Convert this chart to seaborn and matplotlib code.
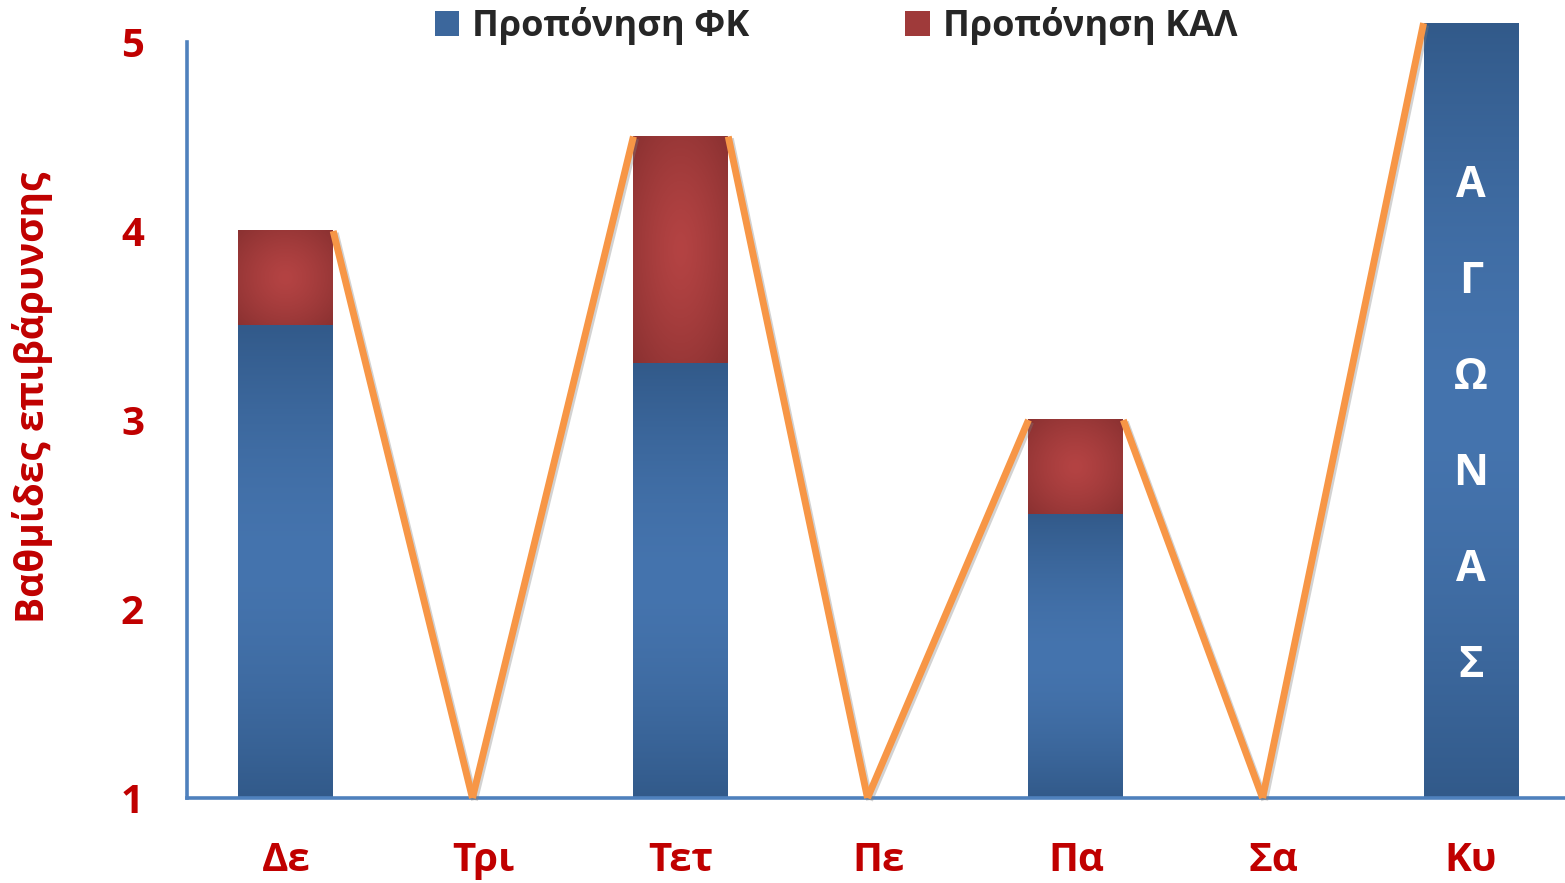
import numpy as np
import pandas as pd
import matplotlib
matplotlib.use("Agg")
import matplotlib.pyplot as plt
import seaborn as sns
from matplotlib.patches import Patch
from matplotlib import patheffects as pe
from matplotlib.colors import to_rgb

# ---- data -------------------------------------------------------------
days = ["Δε", "Τρι", "Τετ", "Πε", "Πα", "Σα", "Κυ"]
fk_load = [3.5, 0, 3.3, 0, 2.5, 0, 5.1]      # physical conditioning
kal_load = [0.5, 0, 1.2, 0, 0.5, 0, 0]       # calisthenics / extra
rest_level = 1
y_ticks = [1, 2, 3, 4, 5]
series_names = ["Προπόνηση ΦΚ", "Προπόνηση ΚΑΛ"]
match_label = "ΑΓΩΝΑΣ"
y_title = "Βαθμίδες επιβάρυνσης"

# ---- style ------------------------------------------------------------
RED_TXT = "#C00000"
AXIS_BLUE = "#4F81BD"
LINE_ORANGE = "#F79646"
BLUE_DARK, BLUE_LIGHT = "#325A8A", "#4574AE"
RED_DARK, RED_LIGHT = "#8A3131", "#B44343"
BAR_W = 0.48
DIP_SHIFT = -0.055

sns.set_theme(style="white")
plt.rcParams["font.family"] = ["Open Sans", "DejaVu Sans"]
plt.rcParams["font.weight"] = "bold"

W, H = 1565, 883
UNIT = 189.0          # pixels per load step
Y0_PX = 798           # baseline (load 1)
X0_PX = 187
Y_TOP = 5.12
fig = plt.figure(figsize=(W / 100, H / 100), dpi=100)
ax = fig.add_axes([X0_PX / W, (H - Y0_PX) / H, 1 - X0_PX / W,
                   (Y_TOP - 1) * UNIT / H])

df = pd.DataFrame({"day": days, "fk": fk_load, "kal": kal_load})
mid_blue = tuple((np.array(to_rgb(BLUE_DARK)) + np.array(to_rgb(BLUE_LIGHT))) / 2)
mid_red = tuple((np.array(to_rgb(RED_DARK)) + np.array(to_rgb(RED_LIGHT))) / 2)

sns.barplot(data=df, x="day", y="fk", color=mid_blue, saturation=1,
            width=BAR_W, ax=ax, linewidth=0, zorder=2)
sns.barplot(data=df, x="day", y="kal", color=mid_red, saturation=1,
            width=BAR_W, ax=ax, linewidth=0, zorder=2,
            bottom=np.asarray(fk_load, dtype=float))

ax.set_xlim(-0.5, 6.476)
ax.set_ylim(1, Y_TOP)


def vertical_grad(dark, light, n=200):
    t = np.abs(np.linspace(-1, 1, n))[:, None]
    d, l = np.array(to_rgb(dark)), np.array(to_rgb(light))
    img = l * (1 - t[..., None] ** 1.6) + d * (t[..., None] ** 1.6)
    return np.repeat(img, 2, axis=1)


def radial_grad(dark, light, n=200):
    yy, xx = np.mgrid[-1:1:n * 1j, -1:1:n * 1j]
    r = np.clip(np.sqrt(xx ** 2 + yy ** 2) / np.sqrt(2), 0, 1)[..., None]
    d, l = np.array(to_rgb(dark)), np.array(to_rgb(light))
    return l * (1 - r ** 1.3) + d * (r ** 1.3)


n_days = len(days)
for k, p in enumerate(ax.patches):
    x0, y0 = p.get_xy()
    w, h = p.get_width(), p.get_height()
    if h <= 0:
        continue
    lo = max(y0, 1.0)
    hi = y0 + h
    img = vertical_grad(BLUE_DARK, BLUE_LIGHT) if k < n_days else radial_grad(RED_DARK, RED_LIGHT)
    ax.imshow(img, extent=(x0, x0 + w, lo, hi), origin="lower",
              aspect="auto", zorder=2.5, interpolation="bilinear")
ax.set_xlim(-0.5, 6.476)
ax.set_ylim(1, Y_TOP)

# ---- load line linking the training days -----------------------------
totals = [f + k for f, k in zip(fk_load, kal_load)]
levels = [t if t > 0 else rest_level for t in totals]
for i in range(n_days - 1):
    xa = i + BAR_W / 2 if totals[i] > 0 else i + DIP_SHIFT
    xb = (i + 1) - BAR_W / 2 if totals[i + 1] > 0 else (i + 1) + DIP_SHIFT
    seg = pd.DataFrame({"x": [xa, xb], "y": [levels[i], levels[i + 1]]})
    sns.lineplot(data=seg, x="x", y="y", ax=ax, color=LINE_ORANGE,
                 linewidth=5.0, sort=False, estimator=None, zorder=4,
                 solid_capstyle="butt", clip_on=False,
                 path_effects=[pe.SimpleLineShadow(offset=(1.5, -1.5),
                                                   shadow_color="gray", alpha=0.35),
                               pe.Normal()])

# vertical caption inside the match-day bar
for j, ch in enumerate(match_label):
    ax.text(n_days - 1, 4.243 - j * 0.508, ch, color="white", fontsize=31,
            fontweight="bold", ha="center", va="center", zorder=5)

# ---- axes -------------------------------------------------------------
for s in ["top", "right"]:
    ax.spines[s].set_visible(False)
for s in ["left", "bottom"]:
    ax.spines[s].set_color(AXIS_BLUE)
    ax.spines[s].set_linewidth(2.6)
    ax.spines[s].set_zorder(3)
ax.spines["left"].set_bounds(1, 5)
ax.set_yticks(y_ticks)
ax.set_yticklabels([str(v) for v in y_ticks])
ax.tick_params(axis="both", length=0, labelsize=29, labelcolor=RED_TXT, pad=31)
for lab in ax.get_xticklabels() + ax.get_yticklabels():
    lab.set_fontweight("bold")
ax.set_xlabel("")
ax.set_ylabel("")
ax.grid(False)

fig.text(33 / W, 1 - 397 / H, y_title, rotation=90, color=RED_TXT,
         fontsize=28, fontweight="bold", ha="center", va="center")

handles = [Patch(facecolor=mid_blue, edgecolor="none"),
           Patch(facecolor=mid_red, edgecolor="none")]
fig.legend(handles, series_names, loc="center", ncol=2, frameon=False,
           bbox_to_anchor=(836 / W, 1 - 26 / H), prop={"size": 26, "weight": "bold"},
           handlelength=0.69, handleheight=0.69, handletextpad=0.36,
           columnspacing=4.3, borderaxespad=0)

fig.savefig("out.png", dpi=100)
